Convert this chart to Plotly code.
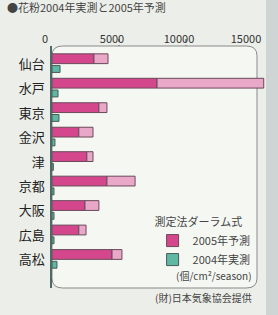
import plotly.graph_objects as go

cities = ["仙台", "水戸", "東京", "金沢", "津", "京都", "大阪", "広島", "高松"]
pred2005_low = [3130, 7840, 3500, 2000, 2600, 4100, 2460, 2000, 4480]
pred2005_high = [4180, 15800, 4100, 3060, 3060, 6200, 3500, 2540, 5220]
actual2004 = [600, 450, 520, 220, 100, 150, 150, 150, 370]
tick_vals = [0, 5000, 10000, 15000]
tick_text = ["0", "5000", "10000", "15000"]

FONT = "Noto Sans CJK JP"
idx = list(range(len(cities)))
light_len = [h - l for h, l in zip(pred2005_high, pred2005_low)]

fig = go.Figure()
fig.add_trace(go.Bar(
    y=idx, x=pred2005_low, orientation="h", offset=-0.42, width=0.4,
    marker=dict(color="#d4478c", line=dict(color="#6a4a5a", width=1)),
    name="2005年予測", showlegend=True,
))
fig.add_trace(go.Bar(
    y=idx, x=light_len, base=pred2005_low, orientation="h", offset=-0.42, width=0.4,
    marker=dict(color="#e9a8c8", line=dict(color="#6a4a5a", width=1)),
    name="2005年予測(幅)", showlegend=False,
))
fig.add_trace(go.Bar(
    y=idx, x=actual2004, orientation="h", offset=0.06, width=0.28,
    marker=dict(color="#5fb8a4", line=dict(color="#4a5a55", width=1)),
    name="2004年実測", showlegend=True,
))

fig.update_layout(
    width=278, height=315,
    margin=dict(l=52, r=12, t=46, b=27),
    barmode="overlay",
    paper_bgcolor="#eceee9",
    plot_bgcolor="rgba(0,0,0,0)",
    font=dict(family=FONT, color="#333"),
    showlegend=True,
    legend=dict(
        x=0.47, y=0.315, xanchor="left", yanchor="top",
        bgcolor="rgba(0,0,0,0)", borderwidth=0,
        font=dict(size=11, color="#444", family=FONT),
        title=dict(text="測定法ダーラム式", font=dict(size=11, color="#444")),
        itemwidth=30, tracegroupgap=0,
    ),
    xaxis=dict(
        side="top", range=[0, 15970], tickvals=tick_vals, ticktext=tick_text,
        showgrid=False, zeroline=False, showline=False, ticks="",
        tickfont=dict(size=11, color="#333"), ticklabelshift=-7,
    ),
    yaxis=dict(
        range=[9.15, -0.74], tickvals=idx, ticktext=cities,
        showgrid=False, zeroline=False, showline=True, linecolor="#4d6a66", linewidth=1.5,
        ticks="", tickfont=dict(size=13, color="#222", family=FONT), ticklabelstandoff=3,
    ),
)

for v in [5000, 10000]:
    fig.add_shape(type="line", xref="x", yref="paper", x0=v, x1=v, y0=0, y1=1.03,
                  line=dict(color="#777", width=1.5, dash="dot"), layer="below")

r_x, r_y = 0.05, 0.04
x0, x1, y0, y1 = 0.0, 0.958, 0.0, 1.0
path = (f"M {x0+r_x},{y1} L {x1-r_x},{y1} Q {x1},{y1} {x1},{y1-r_y} "
        f"L {x1},{y0+r_y} Q {x1},{y0} {x1-r_x},{y0} L {x0+r_x},{y0} "
        f"Q {x0},{y0} {x0},{y0+r_y} L {x0},{y1-r_y} Q {x0},{y1} {x0+r_x},{y1} Z")
fig.add_shape(type="path", xref="paper", yref="paper", path=path,
              fillcolor="#f4f7f2", line=dict(color="#8a8a8a", width=1), layer="below")

fig.add_shape(type="rect", xref="paper", yref="paper", x0=1.0, x1=1.06, y0=-0.2, y1=1.3,
              fillcolor="#cfd4d5", line=dict(width=0), layer="above")

fig.add_annotation(text="●花粉2004年実測と2005年予測", xref="paper", yref="paper",
                   x=-0.22, y=1.16, xanchor="left", yanchor="middle", showarrow=False,
                   font=dict(size=11, color="#444", family=FONT))
fig.add_annotation(text="(個/cm²/season)", xref="paper", yref="paper",
                   x=0.945, y=0.05, xanchor="right", yanchor="middle", showarrow=False,
                   font=dict(size=10, color="#444", family=FONT))
fig.add_annotation(text="(財)日本気象協会提供", xref="paper", yref="paper",
                   x=0.945, y=-0.041, xanchor="right", yanchor="middle", showarrow=False,
                   font=dict(size=10, color="#444", family=FONT))

fig.write_html(
    "out.html",
    config={"displayModeBar": False},
    post_script="document.body.style.margin='0';document.body.style.overflow='hidden';",
)
